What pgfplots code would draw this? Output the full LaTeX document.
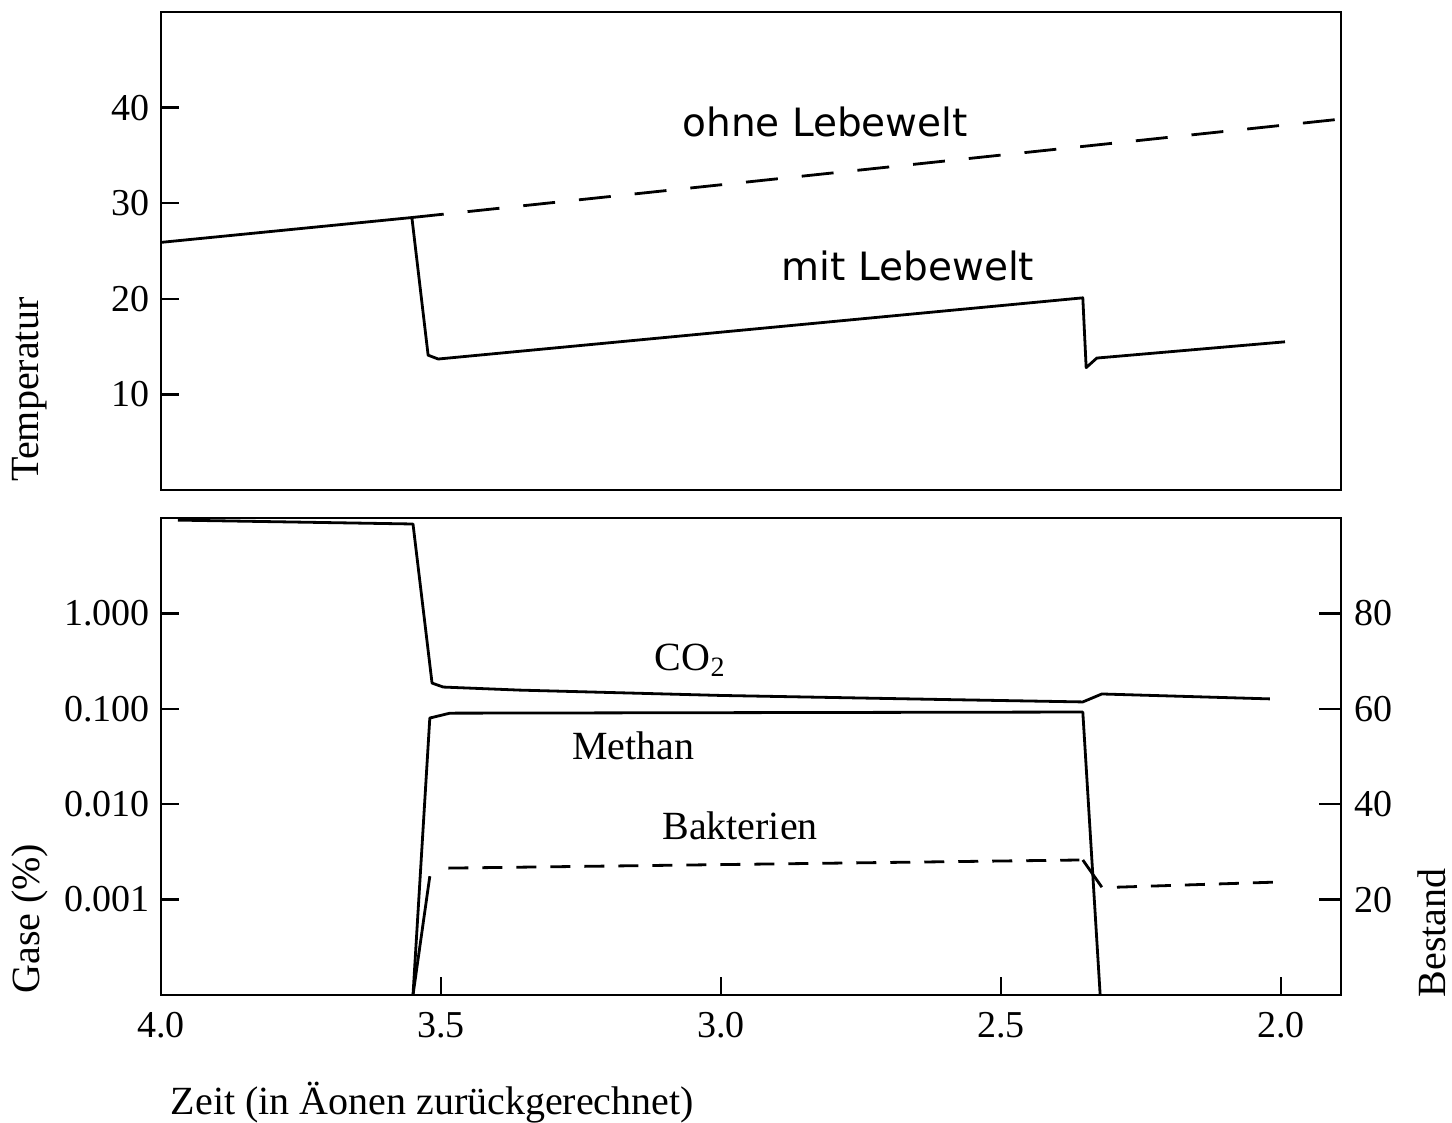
\documentclass[border=0pt]{standalone}
\usepackage{pgfplots}
\pgfplotsset{compat=1.18}
\usepackage{fontspec}
\setmainfont{Liberation Serif}
\newfontfamily\labelsans{DejaVu Sans}

\pgfplotsset{
  panel/.style={
    scale only axis, width=590pt,
    x dir=reverse, xmin=1.893, xmax=4.0,
    axis line style={line width=1.3pt},
    tick style={line width=1.2pt, black},
    major tick length=9pt,
    tick align=inside,
    tick label style={font=\fontsize{19}{22}\selectfont},
    label style={font=\fontsize{20}{24}\selectfont},
    /pgf/number format/assume math mode=true,
  },
  curve/.style={black, line width=1.4pt, line join=round},
  bact/.style={curve, dash pattern=on 10pt off 7pt},
}

\begin{document}
\begin{tikzpicture}
\path[use as bounding box] (0,0) rectangle (726pt,561.5pt);

% oben: Temperatur
\begin{axis}[panel, at={(80.5pt,316.5pt)}, anchor=south west, height=239pt,
  ymin=0, ymax=50, ytick={10,20,30,40}, ytick pos=left, xtick=\empty,
  yticklabel style={xshift=-2pt},
  ylabel={Temperatur},
  ylabel style={at={(axis description cs:-0.111,0.21)}, anchor=center}]
\addplot[curve] coordinates {
  (4.0,25.9) (3.552,28.5) (3.523,14.1) (3.505,13.7) (2.354,20.1)
  (2.348,12.8) (2.329,13.8) (1.993,15.5)};
\addplot[curve, dash pattern=on 16pt off 12pt] coordinates {(3.552,28.5) (1.893,38.8)};
\node[font=\labelsans\fontsize{19.5}{23}\selectfont] at (axis cs:2.814,38.5) {ohne Lebewelt};
\node[font=\labelsans\fontsize{19.5}{23}\selectfont] at (axis cs:2.666,23.4) {mit Lebewelt};
\end{axis}

% unten: Gase, log
\begin{axis}[panel, at={(80.5pt,64pt)}, anchor=south west, height=238.5pt,
  ymode=log, ymin=1e-4, ymax=10, yminorticks=false,
  ytick={1e-3,1e-2,1e-1,1}, yticklabels={0.001,0.010,0.100,1.000},
  ytick pos=left, xtick pos=bottom,
  xtick={4,3.5,3,2.5,2}, xticklabels={4.0,3.5,3.0,2.5,2.0},
  xticklabel style={yshift=-5pt}, yticklabel style={xshift=-2pt},
  xlabel={Zeit (in Äonen zurückgerechnet)},
  xlabel style={at={(axis description cs:0.23,-0.226)}, anchor=center},
  ylabel={Gase (\%)},
  ylabel style={at={(axis description cs:-0.111,0.16)}, anchor=center}]
\addplot[curve] coordinates {
  (3.970,9.5) (3.55,8.65) (3.516,0.186) (3.496,0.169) (3.36,0.157)
  (3.0,0.138) (2.6,0.125) (2.354,0.118) (2.320,0.143) (2.020,0.127)};
\addplot[curve] coordinates {
  (3.55,1e-4) (3.52,0.080) (3.484,0.090) (2.354,0.0925) (2.323,1e-4)};
\node[font=\fontsize{20}{24}\selectfont] at (axis cs:3.055,0.325) {CO\textsubscript{2}};
\node[font=\fontsize{20}{24}\selectfont] at (axis cs:3.157,0.0407) {Methan};
\node[font=\fontsize{20}{24}\selectfont] at (axis cs:2.966,0.00591) {Bakterien};
\end{axis}

% unten: Bestand, rechts
\begin{axis}[panel, at={(80.5pt,64pt)}, anchor=south west, height=238.5pt,
  ymin=0, ymax=100, axis y line*=right, axis x line=none,
  ytick={20,40,60,80}, major tick length=11pt,
  yticklabel style={xshift=3pt},
  ylabel={Bestand},
  ylabel style={at={(axis description cs:1.077,0.13)}, anchor=center}]
\addplot[curve] coordinates {(3.55,0) (3.52,24.9)};
\addplot[bact] coordinates {(3.487,26.6) (2.36,28.3)};
\addplot[curve] coordinates {(2.354,28.3) (2.320,22.6)};
\addplot[bact] coordinates {(2.293,22.6) (2.0,23.7)};
\end{axis}
\end{tikzpicture}
\end{document}
